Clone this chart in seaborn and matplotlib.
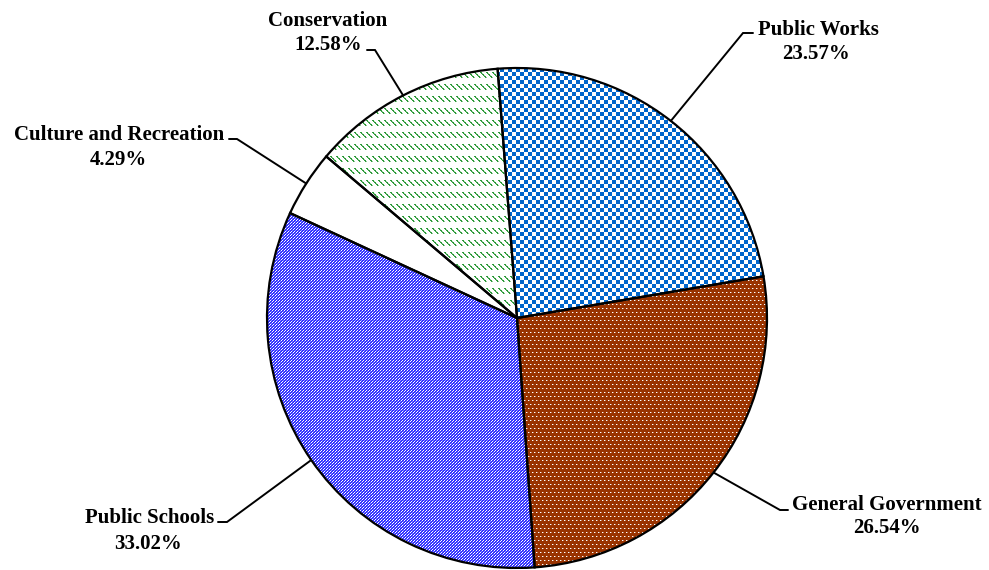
import numpy as np
import matplotlib
matplotlib.use("Agg")
import matplotlib.pyplot as plt
import seaborn as sns
from matplotlib.colors import to_rgb

# Spending shares by function (percent)
categories = ["Public Works", "General Government", "Public Schools",
              "Culture and Recreation", "Conservation"]
shares = [23.57, 26.54, 33.02, 4.29, 12.58]
pct_labels = ["23.57%", "26.54%", "33.02%", "4.29%", "12.58%"]

sns.set_theme(style="white")
plt.rcParams["font.family"] = ["Liberation Serif", "DejaVu Serif"]

W, H = 989, 570
fig = plt.figure(figsize=(W / 100, H / 100), dpi=100)
ax = fig.add_axes([0, 0, 1, 1])

# layout (pixel units, y measured from the bottom)
CX, CY, R = 517, H - 318, 250
START = 94.45


def rgb(c):
    return np.array(to_rgb(c))


def tiled(pattern):
    ph, pw = pattern.shape[:2]
    big = np.tile(pattern, (H // ph + 2, W // pw + 2, 1))
    return big[:H, :W]


# texture tiles
white = rgb("white")

# blue checkerboard, 4 px cells
blue = rgb("#0066CC")
t = np.empty((8, 8, 3))
for r in range(8):
    for c in range(8):
        t[r, c] = blue if ((r // 4) + (c // 4)) % 2 == 0 else white
tex_works = tiled(t)

# rust brown with sparse staggered white dots
brown = rgb("#993300")
t = np.empty((8, 4, 3))
t[:] = brown
t[0, 0] = white
t[4, 2] = white
t[0, 1] = 0.4 * white + 0.6 * brown
t[4, 3] = 0.4 * white + 0.6 * brown
tex_gov = tiled(t)

# fine blue/white checker, blue dominant
sblue = rgb("#3333FF")
t = np.empty((3, 3, 3))
t[:] = sblue
t[0, 0] = white
t[1, 2] = white
t[2, 1] = 0.5 * white + 0.5 * sblue
tex_schools = tiled(t)

# green diagonal dashes on white
green = rgb("#2E9A3A")
lgreen = 0.45 * white + 0.55 * green
t = np.empty((12, 6, 3))
t[:] = white
for r in range(6):
    t[r, r % 6] = green
    t[r, (r + 1) % 6] = lgreen if r % 2 else green
tex_cons = tiled(t)

textures = [tex_works, tex_gov, tex_schools, None, tex_cons]
fills = ["#0066CC", "#993300", "#3333FF", "white", "white"]

wedges, _ = ax.pie(shares, startangle=START, counterclock=False, radius=R,
                   center=(CX, CY), colors=fills,
                   wedgeprops=dict(linewidth=0, zorder=1))

for w, tex in zip(wedges, textures):
    if tex is None:
        continue
    im = ax.imshow(tex, extent=(0, W, 0, H), origin="upper",
                   interpolation="nearest", zorder=1.5)
    im.set_clip_path(w)

edges, _ = ax.pie(shares, startangle=START, counterclock=False, radius=R,
                  center=(CX, CY),
                  wedgeprops=dict(facecolor="none", edgecolor="black",
                                  linewidth=1.6, zorder=2))

# label placement: leader elbow, leader end, name centre x, name baseline,
# percent centre x, percent baseline (pixels from the top)
label_layout = [
    ((743, 33), (753, 33), 818, 35, 816, 59),
    ((780, 510), (788, 510), 887, 510, 887, 533),
    ((227, 522), (218, 522), 150, 523, 148, 549),
    ((237, 139), (229, 139), 119, 140, 118, 165),
    ((375, 50), (367, 50), 328, 26, 328, 50),
]

for w, name, pct, lay in zip(edges, categories, pct_labels, label_layout):
    mid = np.deg2rad((w.theta1 + w.theta2) / 2)
    px, py = CX + R * np.cos(mid), CY + R * np.sin(mid)
    (ex, ey), (hx, hy), nx, nb, qx, qb = lay
    ax.plot([px, ex, hx], [py, H - ey, H - hy], color="black", lw=1.4,
            solid_joinstyle="miter", zorder=3)
    ax.text(nx, H - nb, name, ha="center", va="baseline", fontsize=15,
            fontweight="bold", color="black")
    ax.text(qx, H - qb, pct, ha="center", va="baseline", fontsize=15,
            fontweight="bold", color="black")

ax.set_xlim(0, W)
ax.set_ylim(0, H)
ax.set_aspect("equal")
ax.axis("off")

fig.savefig("out.png", dpi=100, facecolor="white")
